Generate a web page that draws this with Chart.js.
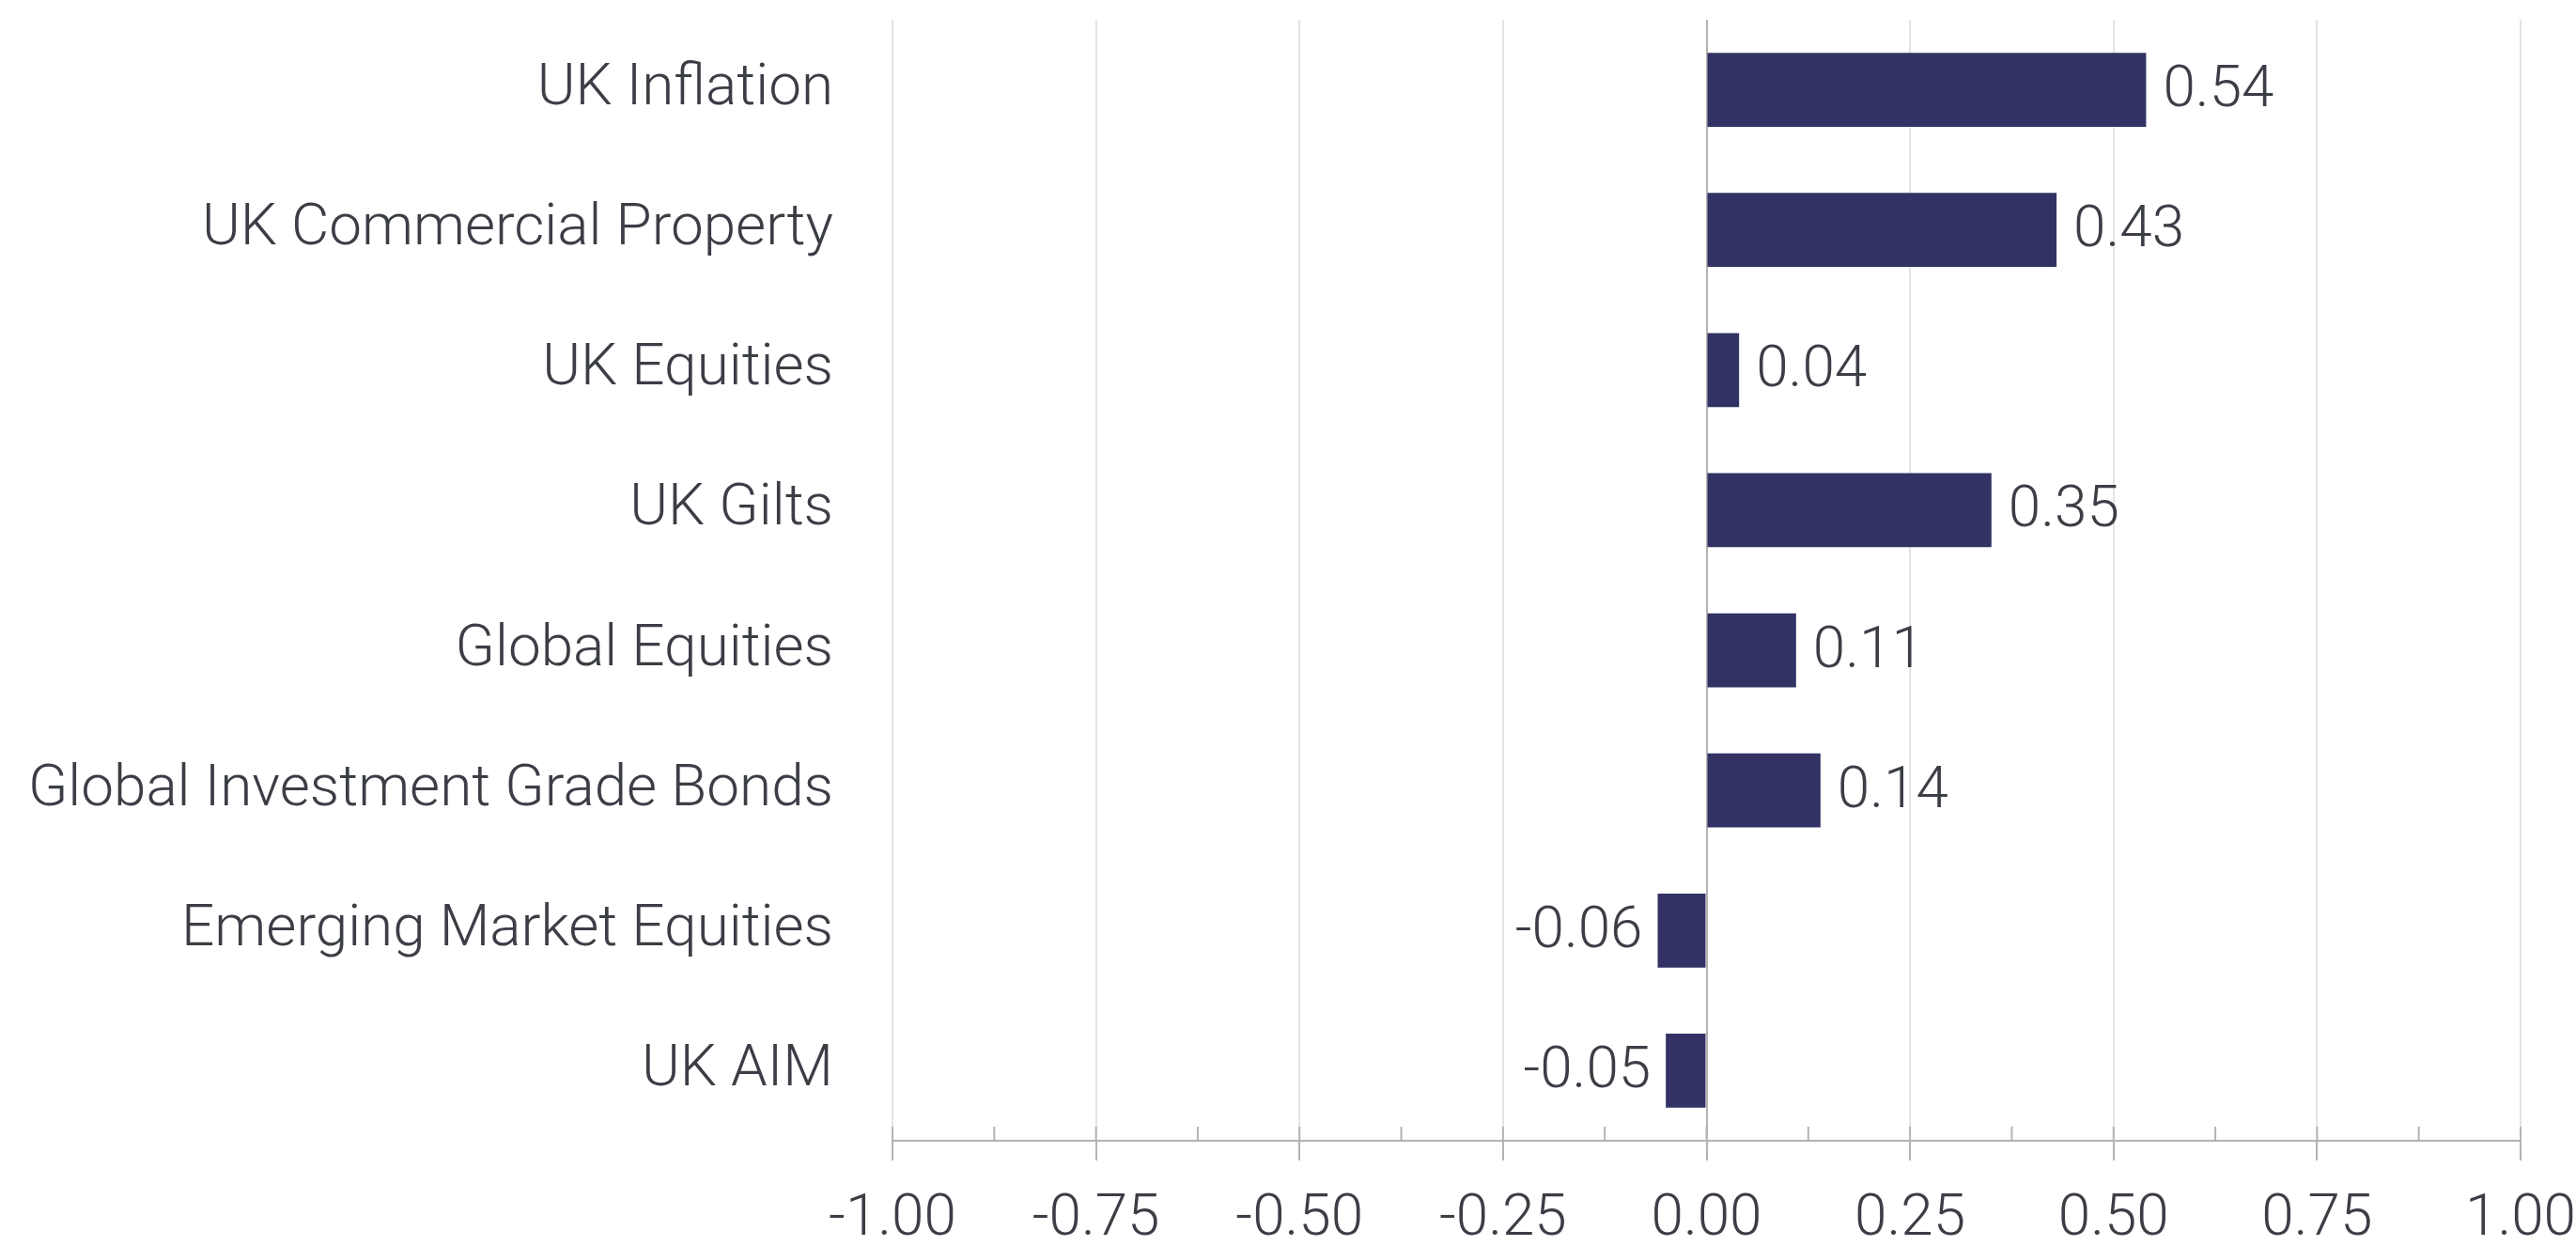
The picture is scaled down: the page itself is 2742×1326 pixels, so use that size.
<!DOCTYPE html>
<html>
<head>
<meta charset="utf-8">
<script src="https://cdn.jsdelivr.net/npm/chart.js@4"></script>
<style>
  html, body { margin: 0; padding: 0; background: #fff; }
  .wrap { width: 2742px; height: 1326px; position: relative; }
</style>
</head>
<body>
<div class="wrap"><canvas id="corr-chart"></canvas></div>
<script>
/* ── DATA ── */
const categories = [
  'UK Inflation',
  'UK Commercial Property',
  'UK Equities',
  'UK Gilts',
  'Global Equities',
  'Global Investment Grade Bonds',
  'Emerging Market Equities',
  'UK AIM'
];
const values = [0.54, 0.43, 0.04, 0.35, 0.11, 0.14, -0.06, -0.05];
const xTicks = [-1.00, -0.75, -0.50, -0.25, 0.00, 0.25, 0.50, 0.75, 1.00];

/* ── STYLE ── */
const barClr  = '#323264';
const textClr = '#3c3e46';
const gridClr = '#e4e4e4';
const axisClr = '#b4b4b4';
const FONT    = 'Roboto';

// value labels at bar ends
const valueLabels = {
  id: 'valueLabels',
  afterDatasetsDraw(chart) {
    const { ctx } = chart;
    const meta = chart.getDatasetMeta(0);
    ctx.save();
    ctx.fillStyle = textClr;
    ctx.font = `300 62px ${FONT}`;
    ctx.textBaseline = 'middle';
    meta.data.forEach((bar, i) => {
      const v = values[i];
      const txt = v.toFixed(2);
      if (v >= 0) {
        ctx.textAlign = 'left';
        ctx.fillText(txt, bar.x + 18, bar.y + 2);
      } else {
        ctx.textAlign = 'right';
        ctx.fillText(txt, bar.x - 16, bar.y + 2);
      }
    });
    ctx.restore();
  }
};

// tick marks above the axis line (major + minor)
const axisTicks = {
  id: 'axisTicks',
  afterDraw(chart) {
    const { ctx } = chart;
    const sx = chart.scales.x;
    const yAxis = chart.chartArea.bottom;
    ctx.save();
    ctx.strokeStyle = axisClr;
    ctx.lineWidth = 2;
    ctx.beginPath();
    for (let i = 0; i < xTicks.length; i++) {
      const px = sx.getPixelForValue(xTicks[i]);
      ctx.moveTo(px, yAxis - 15);
      ctx.lineTo(px, yAxis);
      if (i < xTicks.length - 1) {
        const mid = sx.getPixelForValue((xTicks[i] + xTicks[i + 1]) / 2);
        ctx.moveTo(mid, yAxis - 15);
        ctx.lineTo(mid, yAxis);
      }
    }
    ctx.stroke();
    ctx.restore();
  }
};

new Chart(document.getElementById('corr-chart').getContext('2d'), {
  type: 'bar',
  plugins: [valueLabels, axisTicks],
  data: {
    labels: categories,
    datasets: [{
      data: values,
      backgroundColor: barClr,
      barPercentage: 0.6,
      categoryPercentage: 0.88,
      borderSkipped: false
    }]
  },
  options: {
    indexAxis: 'y',
    responsive: true,
    maintainAspectRatio: false,
    animation: false,
    layout: { padding: { top: 21, right: 59, left: 0, bottom: 0 } },
    plugins: {
      legend: { display: false },
      tooltip: { enabled: false }
    },
    scales: {
      x: {
        min: xTicks[0],
        max: xTicks[xTicks.length - 1],
        afterBuildTicks: s => { s.ticks = xTicks.map(v => ({ value: v })); },
        afterFit: s => {
          s.height = 112;
          s.paddingLeft = 0;
          s.paddingRight = 0;
        },
        grid: {
          color: c => (c.tick && c.tick.value === 0) ? axisClr : gridClr,
          lineWidth: 2,
          tickColor: axisClr,
          tickLength: 21
        },
        border: { color: axisClr, width: 2 },
        ticks: {
          color: textClr,
          padding: 26,
          maxRotation: 0,
          font: { size: 62, weight: 300, family: FONT },
          callback: v => Number(v).toFixed(2)
        }
      },
      y: {
        afterFit: s => {
          s.width = 950;
          s.paddingTop = 0;
          s.paddingBottom = 0;
        },
        grid: { display: false, drawTicks: false },
        border: { display: false },
        ticks: {
          color: textClr,
          padding: 63,
          font: { size: 62, weight: 300, family: FONT }
        }
      }
    }
  }
});
</script>
</body>
</html>
